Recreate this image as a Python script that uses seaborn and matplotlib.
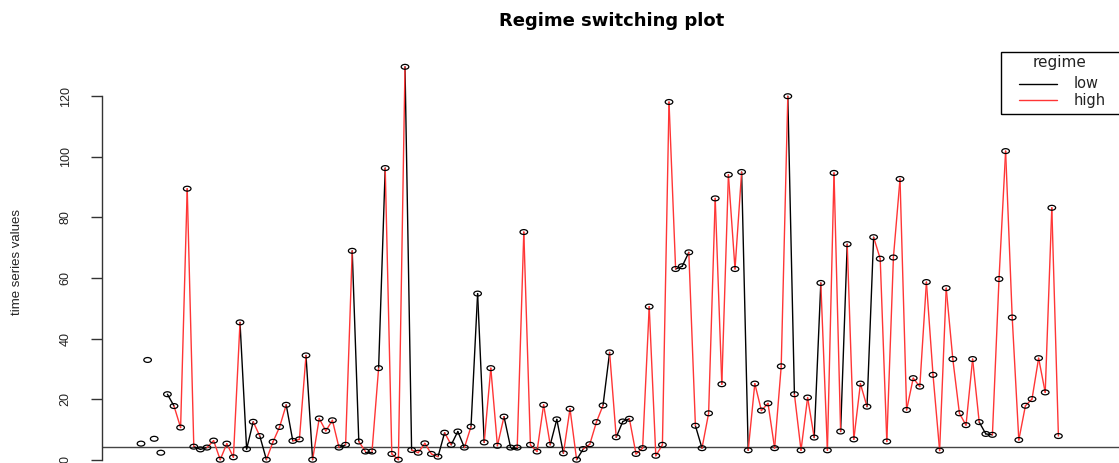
import numpy as np
import pandas as pd
import matplotlib
matplotlib.use("Agg")
import matplotlib.pyplot as plt
import matplotlib.path as mpath
from matplotlib import font_manager
from matplotlib.patches import Rectangle
from matplotlib.lines import Line2D
import seaborn as sns

# ---------------- data ----------------
values = [5.4, 33.0, 7.0, 2.4, 21.7, 17.8, 10.7, 89.5, 4.4, 3.5,
          4.1, 6.4, 0.1, 5.4, 0.9, 45.4, 3.6, 12.6, 7.9, 0.1,
          6.0, 10.9, 18.2, 6.3, 6.8, 34.5, 0.1, 13.7, 9.6, 13.1,
          4.1, 5.0, 69.0, 6.1, 2.8, 2.8, 30.3, 96.3, 2.0, 0.1,
          129.7, 3.3, 2.4, 5.5, 2.0, 1.1, 9.0, 5.0, 9.4, 4.1,
          11.0, 54.9, 5.8, 30.3, 4.7, 14.3, 4.1, 4.1, 75.2, 5.0,
          2.8, 18.2, 5.0, 13.4, 2.2, 16.9, 0.1, 3.6, 5.2, 12.5,
          18.0, 35.5, 7.5, 12.7, 13.6, 2.0, 3.9, 50.6, 1.4, 5.0,
          118.1, 63.0, 63.9, 68.5, 11.3, 3.9, 15.4, 86.3, 25.0, 94.1,
          63.0, 95.0, 3.2, 25.2, 16.3, 18.7, 3.9, 30.9, 120.0, 21.7,
          3.2, 20.6, 7.4, 58.4, 3.2, 94.7, 9.4, 71.2, 6.8, 25.2,
          17.6, 73.5, 66.4, 6.1, 66.8, 92.7, 16.5, 27.0, 24.2, 58.7,
          28.1, 3.1, 56.7, 33.3, 15.4, 11.5, 33.3, 12.5, 8.6, 8.3,
          59.7, 101.9, 47.0, 6.6, 17.9, 20.1, 33.6, 22.3, 83.2, 7.9]

# regime of the segment that ends at each point ('-' = no segment drawn)
regime_code = ("-----" "LHHHL" "LHHHH" "HLLHL" "HHHLH" "HLHHH" "HLHLH" "LHLHH"
               "HLHHH" "HLHLL" "HLLHH" "HLLHH" "HHHLL" "HHLHH" "HLHLL" "HHHHH"
               "HHLLH" "LHHHH" "HHLHH" "HHHHL" "HHHLH" "HHLHH" "HLHHH" "HHHHH"
               "HHHHH" "HHHLL" "HHHHH" "HHHHH")
regime_names = {"L": "low", "H": "high"}
regime_colors = {"low": "black", "high": "#ff3535"}
baseline = 4.2
y_ticks = [0, 20, 40, 60, 80, 100, 120]

t = np.arange(1, len(values) + 1)

# segments in long form: one unit per segment
rows = []
for k in range(1, len(values)):
    code = regime_code[k]
    if code == "-":
        continue
    reg = regime_names[code]
    rows.append((k, t[k - 1], values[k - 1], reg))
    rows.append((k, t[k], values[k], reg))
seg_df = pd.DataFrame(rows, columns=["seg", "t", "y", "regime"])

# ---------------- fonts ----------------
sns.set_theme(style="white")
names = {f.name for f in font_manager.fontManager.ttflist}
if "Liberation Sans Narrow" in names:
    narrow, tick_fs, lab_fs = "Liberation Sans Narrow", 10.5, 11.5
else:
    narrow, tick_fs, lab_fs = "Liberation Sans", 9.0, 9.5
plt.rcParams["font.family"] = ["DejaVu Sans"]

W, H = 1119, 463
fig = plt.figure(figsize=(W / 100, H / 100), dpi=100)
ax = fig.add_axes([102 / W, 0, (W - 102) / W, 408 / H])

sns.lineplot(data=seg_df, x="t", y="y", hue="regime", units="seg",
             estimator=None, palette=regime_colors, legend=False,
             linewidth=1.0, ax=ax)

circ = mpath.Path.unit_circle()
ellipse = mpath.Path(circ.vertices * np.array([1.0, 0.64]), circ.codes)
sns.scatterplot(x=t, y=values, marker=ellipse, s=30, facecolor="none",
                edgecolor="black", linewidth=0.9, ax=ax, zorder=3)

ax.axhline(baseline, color="#444444", linewidth=1.0, zorder=1)

ax.set_xlim(-4.91, 149.18)
ax.set_ylim(-0.99, 133.6)
for s in ["top", "right", "bottom"]:
    ax.spines[s].set_visible(False)
ax.spines["left"].set_bounds(0, 120)
ax.spines["left"].set_color("#333333")
ax.spines["left"].set_linewidth(1.0)
ax.set_xticks([])
ax.set_yticks(y_ticks)
ax.set_yticklabels([str(v) for v in y_ticks], rotation=90, va="center",
                   family=narrow, fontsize=tick_fs, color="#222222")
ax.tick_params(axis="y", direction="out", length=7.9, width=1.0,
               color="#333333", pad=14, left=True)
ax.set_xlabel("")
ax.set_ylabel("")
ax.grid(False)

fig.text(17 / W, 1 - 262 / H, "time series values", rotation=90,
         ha="center", va="center", family=narrow, fontsize=lab_fs,
         color="#222222")
fig.text(612 / W, 1 - 21 / H, "Regime switching plot", ha="center",
         va="center", fontsize=13, fontweight="bold", color="black")

# legend box (runs off the right edge like the original)
fig.add_artist(Rectangle((1001 / W, 1 - 114 / H), 140 / W, 62 / H,
                         transform=fig.transFigure, fill=False,
                         edgecolor="black", linewidth=1.0))
fig.text(1060 / W, 1 - 63 / H, "regime", ha="center", va="center",
         fontsize=11, color="#222222")
for lab, yy in [("low", 84), ("high", 100)]:
    fig.add_artist(Line2D([1019 / W, 1057 / W], [1 - yy / H, 1 - yy / H],
                          transform=fig.transFigure,
                          color=regime_colors[lab], linewidth=1.0))
    fig.text(1074 / W, 1 - yy / H, lab, ha="left", va="center",
             fontsize=10.5, color="#222222")

fig.savefig("out.png", dpi=100)
